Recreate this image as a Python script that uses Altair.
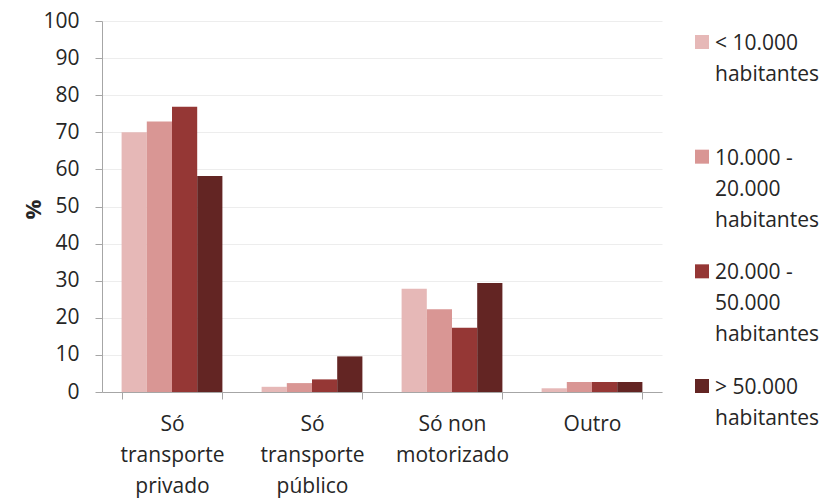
import altair as alt
import pandas as pd

categories = ["Só\ntransporte\nprivado", "Só\ntransporte\npúblico", "Só non\nmotorizado", "Outro"]
groups = ["< 10.000\nhabitantes", "10.000 -\n20.000\nhabitantes", "20.000 -\n50.000\nhabitantes", "> 50.000\nhabitantes"]
colors = ["#E6B8B7", "#D99694", "#953735", "#632523"]

vals_lt10k = [70.0, 1.4, 27.8, 1.0]
vals_10_20k = [72.9, 2.4, 22.3, 2.7]
vals_20_50k = [76.9, 3.4, 17.3, 2.7]
vals_gt50k = [58.2, 9.6, 29.4, 2.7]
y_ticks = list(range(0, 101, 10))

series = [vals_lt10k, vals_10_20k, vals_20_50k, vals_gt50k]
rows = []
for g, vals in zip(groups, series):
    for c, v in zip(categories, vals):
        rows.append({"cat": c, "grp": g, "val": v})
df = pd.DataFrame(rows)
leg_df = pd.DataFrame({"grp": groups})

FONT = "Open Sans"
TXT = "#262626"
AX = "#A6A6A6"

color_enc = alt.Color("grp:N", sort=groups, scale=alt.Scale(domain=groups, range=colors), legend=None)

bars = alt.Chart(df).mark_bar().encode(
    x=alt.X("cat:N", sort=categories,
            scale=alt.Scale(paddingInner=0.28, paddingOuter=0.14),
            axis=alt.Axis(title=None, labelAngle=0, labelExpr="split(datum.label, '\\n')",
                          tickBand="extent", grid=False, domainColor=AX, tickColor=AX,
                          tickSize=7, labelPadding=14, labelFont=FONT, labelFontSize=21,
                          labelColor=TXT, labelLineHeight=31, labelBaseline="top")),
    xOffset=alt.XOffset("grp:N", sort=groups, scale=alt.Scale(paddingInner=0, paddingOuter=0)),
    y=alt.Y("val:Q", scale=alt.Scale(domain=[0, 100], nice=False),
            axis=alt.Axis(values=y_ticks, title="%", grid=True, gridColor="#EDEDED",
                          domainColor=AX, tickColor=AX, tickSize=7, labelPadding=16,
                          labelFont=FONT, labelFontSize=21, labelColor=TXT,
                          titleFont=FONT, titleFontSize=22, titleFontWeight="bold",
                          titleColor=TXT, titleAngle=270, titleX=-69, titleY=188,
                          titleAlign="center", titleBaseline="middle")),
    color=color_enc,
).properties(width=560, height=371)

leg_y = alt.Y("grp:N", sort=groups,
              scale=alt.Scale(type="point", domain=groups, range=[12, 356], padding=0),
              axis=None)
leg_sq = alt.Chart(leg_df).mark_square(size=196, opacity=1, yOffset=9).encode(
    x=alt.value(7), y=leg_y, color=color_enc)
leg_tx = alt.Chart(leg_df).transform_calculate(
    lines="split(datum.grp, '\\n')"
).mark_text(align="left", baseline="top", font=FONT, fontSize=21, lineHeight=31,
            color=TXT).encode(x=alt.value(20), y=leg_y, text="lines:N")
legend = alt.layer(leg_sq, leg_tx).properties(width=120, height=371)

chart = alt.hconcat(bars, legend, spacing=33).properties(
    padding={"left": 14, "top": 2, "right": 0, "bottom": 6},
).configure_view(stroke=None)

chart.save("out.html", embed_options={"renderer": "svg", "actions": False})
